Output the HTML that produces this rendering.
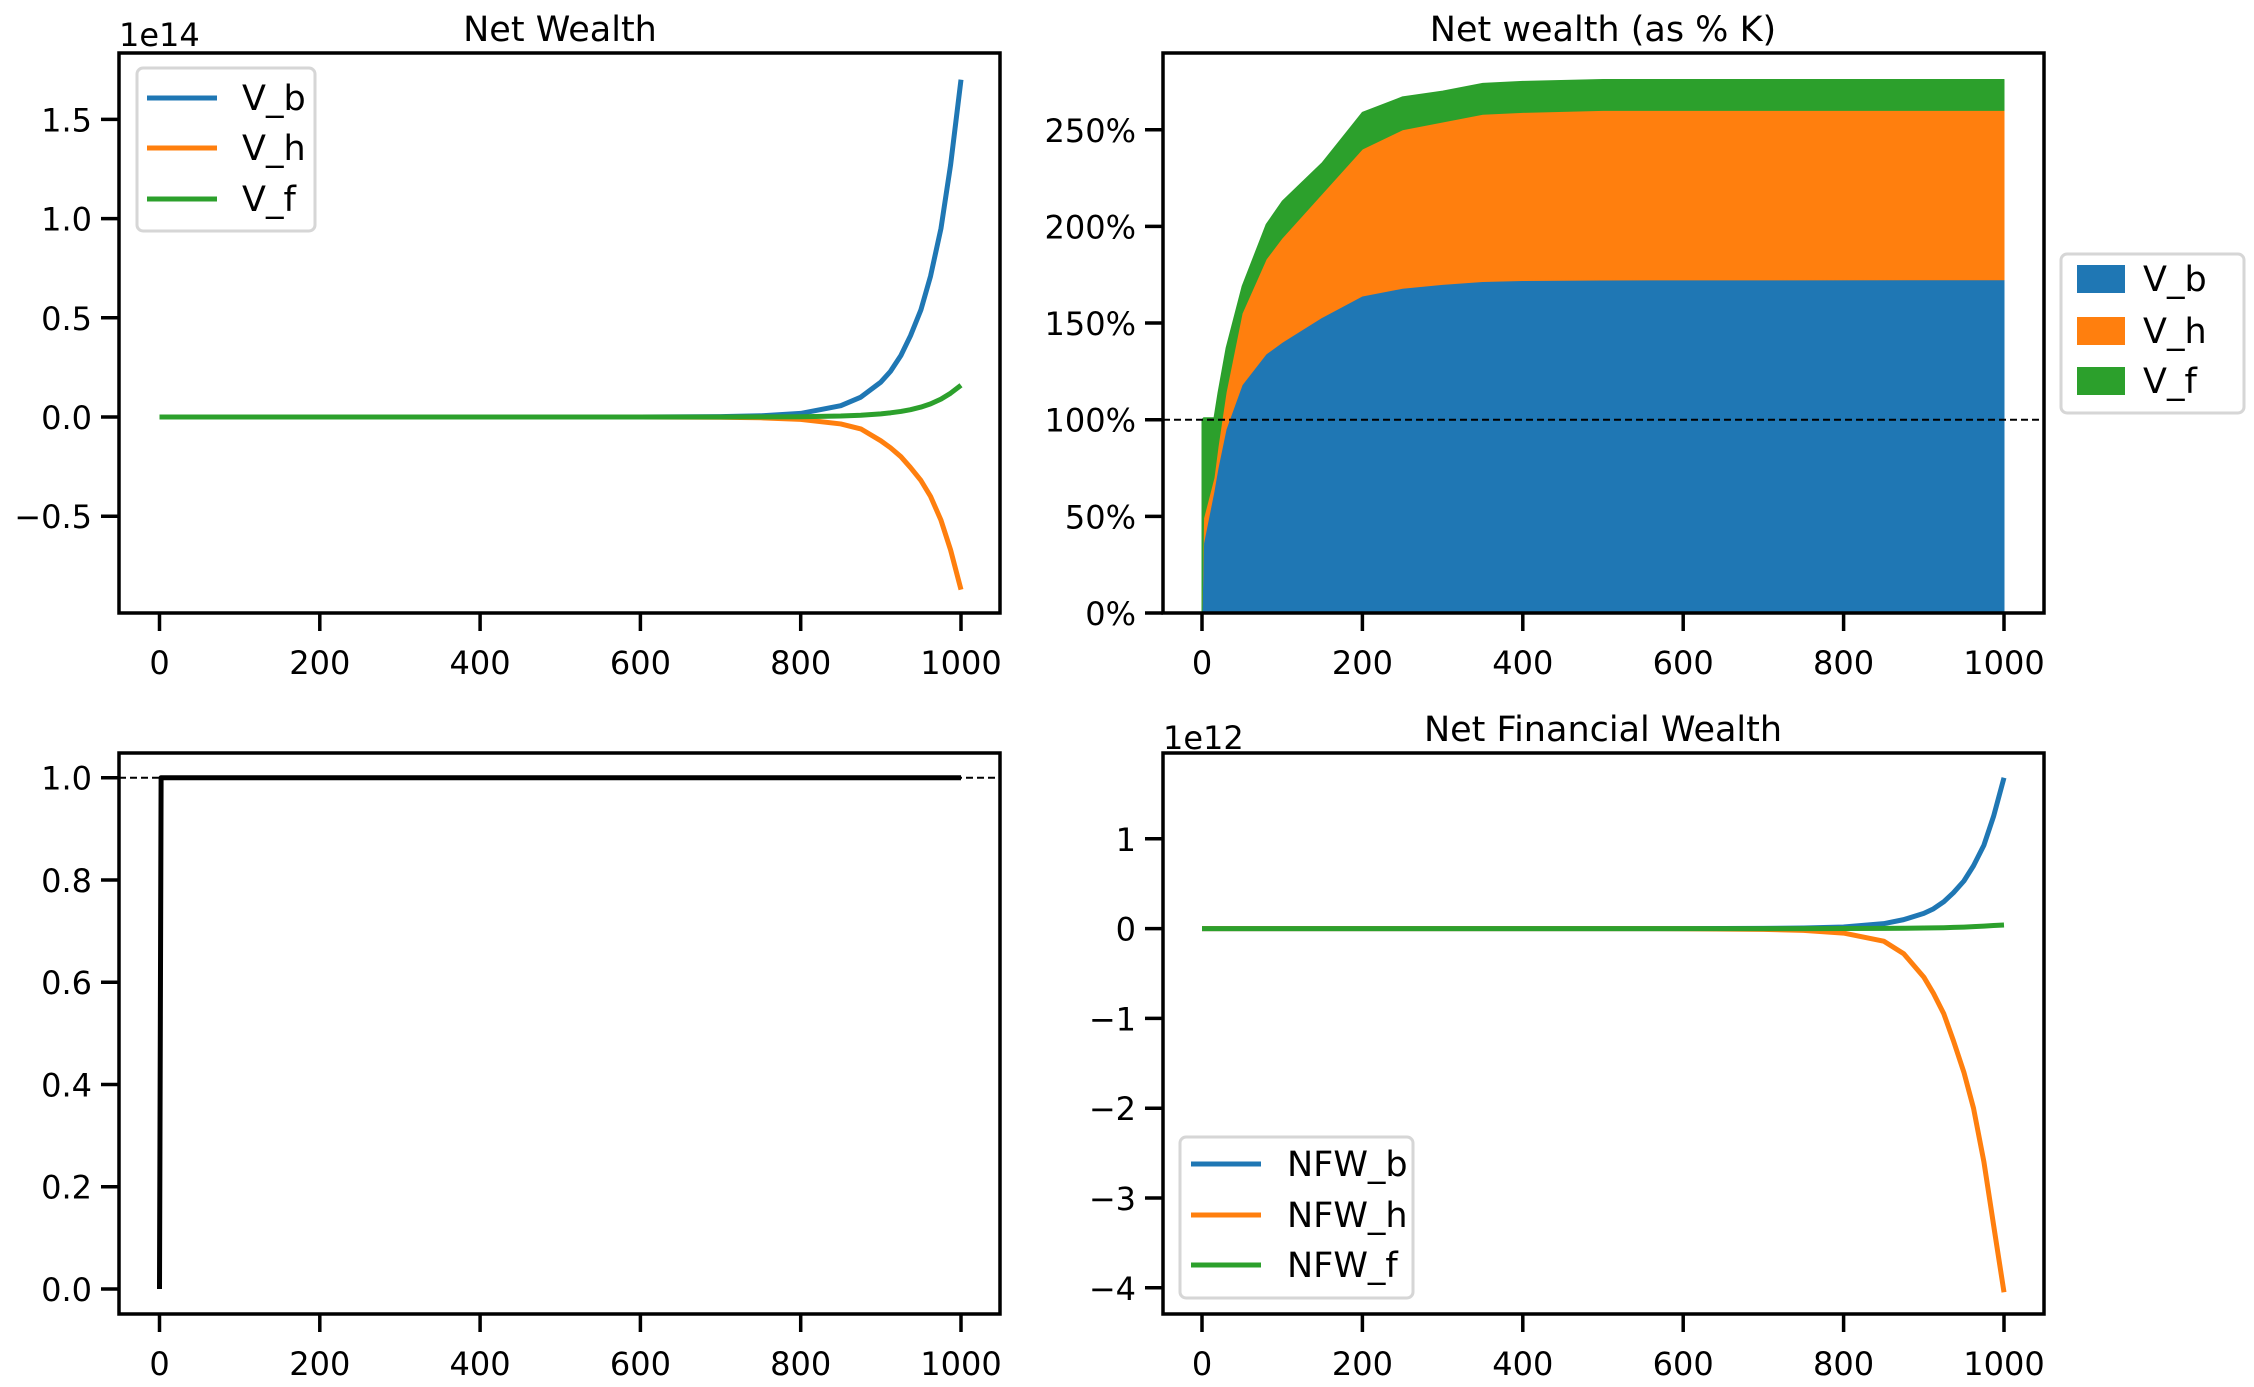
<!DOCTYPE html>
<html><head><meta charset="utf-8">
<style>
html,body{margin:0;padding:0;background:#fff;}
svg{display:block;font-family:"DejaVu Sans","Liberation Sans",sans-serif;}
</style></head>
<body>
<svg id="fig" width="2254" height="1387" viewBox="0 0 2254 1387" xmlns="http://www.w3.org/2000/svg"></svg>
<script>
// ---- data ----
const tNW = [0,600,700,750,800,850,875,900,912,925,937,950,962,975,987,1000];
const Vb = [0,0.0003,0.002,0.006,0.018,0.057,0.1,0.176,0.23,0.31,0.41,0.54,0.71,0.95,1.27,1.70];
const Vh = [0,-0.0002,-0.001,-0.004,-0.012,-0.035,-0.06,-0.12,-0.155,-0.2,-0.255,-0.32,-0.4,-0.52,-0.67,-0.87];
const Vf = [0,0,0.0001,0.0005,0.0015,0.005,0.009,0.016,0.021,0.028,0.037,0.05,0.066,0.09,0.12,0.16];

const tPct = [0,2,15,20,30,50,80,100,150,200,250,300,350,400,500,1000];
const pVb = [0,0.36,0.63,0.75,0.95,1.18,1.34,1.40,1.53,1.64,1.68,1.70,1.715,1.72,1.723,1.724];
const pVh = [0,0.13,0.07,0.11,0.19,0.37,0.49,0.54,0.64,0.76,0.82,0.84,0.865,0.87,0.877,0.876];
const pVf = [1.0,0.52,0.31,0.28,0.23,0.14,0.18,0.19,0.16,0.19,0.17,0.16,0.16,0.16,0.16,0.16];

const tRatio = [0,2,1000];
const ratio = [0,1,1];

const tNFW = [0,600,700,750,800,850,875,900,912,925,937,950,962,975,987,1000];
const NFWb = [0,0.0003,0.002,0.006,0.018,0.055,0.1,0.17,0.22,0.3,0.4,0.53,0.7,0.93,1.25,1.68];
const NFWh = [0,-0.001,-0.008,-0.02,-0.05,-0.14,-0.28,-0.54,-0.72,-0.95,-1.25,-1.6,-2.0,-2.6,-3.3,-4.05];
const NFWf = [0,0,0.0001,0.0003,0.0008,0.002,0.004,0.006,0.008,0.01,0.013,0.017,0.022,0.028,0.034,0.04];

const xTicks = [0,200,400,600,800,1000];
const ticksTL = [-0.5,0.0,0.5,1.0,1.5];
const ticksTLlab = ["\u22120.5","0.0","0.5","1.0","1.5"];
const ticksTR = [0,0.5,1,1.5,2,2.5];
const ticksTRlab = ["0%","50%","100%","150%","200%","250%"];
const ticksBL = [0,0.2,0.4,0.6,0.8,1.0];
const ticksBLlab = ["0.0","0.2","0.4","0.6","0.8","1.0"];
const ticksBR = [-4,-3,-2,-1,0,1];
const ticksBRlab = ["\u22124","\u22123","\u22122","\u22121","0","1"];

const C = {b:"#1f77b4",h:"#ff7f0e",f:"#2ca02c"};
const NS = "http://www.w3.org/2000/svg";
const svg = document.getElementById('fig');
const TF = 32;
function mk(tag, attrs, parent){
  const e = document.createElementNS(NS, tag);
  for (const k in attrs) e.setAttribute(k, attrs[k]);
  (parent||svg).appendChild(e);
  return e;
}
function lin(d0,d1,r0,r1){ return v => r0 + (v-d0)*(r1-r0)/(d1-d0); }

function axes(name, box, xs, ys, yt, ytl){
  const g = mk('g',{});
  
  
  xTicks.forEach(v=>{
    const x = xs(v);
    const tk = mk('line',{x1:x,x2:x,y1:box.b,y2:box.b+18,stroke:'#000','stroke-width':3.5},g);
    
    
    const t = mk('text',{x:x,y:box.b+61,'font-size':TF,'text-anchor':'middle',fill:'#000'},g);
    t.textContent = v;
    
    
  });
  yt.forEach((v,i)=>{
    const y = ys(v);
    const tk = mk('line',{x1:box.l-18,x2:box.l,y1:y,y2:y,stroke:'#000','stroke-width':3.5},g);
    
    
    const t = mk('text',{x:box.l-27,y:y+12,'font-size':TF,'text-anchor':'end',fill:'#000'},g);
    t.textContent = ytl[i];
    
    
  });
  return g;
}
function frame(g, box){
  const r = mk('rect',{x:box.l,y:box.t,width:box.r-box.l,height:box.b-box.t,fill:'none',stroke:'#000','stroke-width':3.5},g);
  
  
}
function path(g, xsArr, ysArr, xs, ys, color, name, w){
  let d = '';
  xsArr.forEach((v,i)=>{ d += (i?'L':'M') + xs(v).toFixed(2) + ',' + ys(ysArr[i]).toFixed(2); });
  const p = mk('path',{d:d,fill:'none',stroke:color,'stroke-width':w||5,'stroke-linejoin':'round'},g);
  
  
}
function title(txt, x, y, name){
  const t = mk('text',{x:x,y:y,'font-size':35,'text-anchor':'middle',fill:'#000'});
  t.textContent = txt;
  
  
}
function text(txt,x,y,size,name,anchor){
  const t = mk('text',{x:x,y:y,'font-size':size,'text-anchor':anchor||'start',fill:'#000'});
  t.textContent = txt;
  
  
  return t;
}
function legend(name, box, entries, patch){
  const g = mk('g',{});
  
  
  mk('rect',{x:box.x,y:box.y,width:box.w,height:box.h,rx:6,fill:'#fff','fill-opacity':0.8,stroke:'#d6d6d6','stroke-width':3},g);
  entries.forEach(e=>{
    if (patch){
      const r = mk('rect',{x:box.sx,y:e.y-14,width:48,height:28,fill:e.c},g);
      
      
    } else {
      const l = mk('line',{x1:box.sx,x2:box.sx+70,y1:e.y,y2:e.y,stroke:e.c,'stroke-width':5},g);
      
      
    }
    const t = mk('text',{x:box.tx,y:e.y+12,'font-size':35,fill:'#000'},g);
    t.textContent = e.l;
    
    
  });
}

// ---- Top-left: Net Wealth ----
{
  const box = {l:119,r:1000,t:53,b:613};
  const xs = lin(0,1000,159.5,961);
  const ys = lin(0,1,417,218.6);
  const g = axes('net-wealth-axes', box, xs, ys, ticksTL, ticksTLlab);
  path(g,tNW,Vb,xs,ys,C.b,'line-v-b');
  path(g,tNW,Vh,xs,ys,C.h,'line-v-h');
  path(g,tNW,Vf,xs,ys,C.f,'line-v-f');
  frame(g,box);
  title('Net Wealth',560,41,'net-wealth-title');
  text('1e14',119,46,TF,'offset-text-1e14');
  legend('net-wealth-legend',{x:137,y:68,w:178,h:163,sx:147,tx:242},
    [{y:98,c:C.b,l:'V_b'},{y:148,c:C.h,l:'V_h'},{y:199,c:C.f,l:'V_f'}],false);
}

// ---- Top-right: Net wealth (% K) stacked area ----
{
  const box = {l:1163,r:2044,t:53,b:613};
  const xs = lin(0,1000,1202,2004);
  const ys = lin(0,1,613,419.7);
  const g = axes('net-wealth-pct-axes', box, xs, ys, ticksTR, ticksTRlab);
  const layers = [[pVb,C.b,'area-v-b'],[pVh,C.h,'area-v-h'],[pVf,C.f,'area-v-f']];
  let base = tPct.map(()=>0);
  layers.forEach(([arr,col,nm])=>{
    const top = base.map((b,i)=>b+arr[i]);
    let d = '';
    tPct.forEach((t,i)=>{ d += (i?'L':'M') + xs(t).toFixed(2)+','+ys(top[i]).toFixed(2); });
    for (let i=tPct.length-1;i>=0;i--) d += 'L'+xs(tPct[i]).toFixed(2)+','+ys(base[i]).toFixed(2);
    d += 'Z';
    const p = mk('path',{d:d,fill:col,stroke:col,'stroke-width':1,'stroke-linejoin':'round'},g);
    
    
    base = top;
  });
  const dl = mk('line',{x1:box.l,x2:box.r,y1:ys(1),y2:ys(1),stroke:'#000','stroke-width':2,'stroke-dasharray':'7,4'},g);
  
  
  frame(g,box);
  title('Net wealth (as % K)',1603,41,'net-wealth-pct-title');
  legend('net-wealth-pct-legend',{x:2061,y:254,w:183,h:159,sx:2077,tx:2143},
    [{y:279,c:C.b,l:'V_b'},{y:331,c:C.h,l:'V_h'},{y:381,c:C.f,l:'V_f'}],true);
}

// ---- Bottom-left: ratio ----
{
  const box = {l:119,r:1000,t:753,b:1314};
  const xs = lin(0,1000,159.5,961);
  const ys = lin(0,1,1289,777.7);
  const g = axes('ratio-axes', box, xs, ys, ticksBL, ticksBLlab);
  const dl = mk('line',{x1:box.l,x2:box.r,y1:ys(1),y2:ys(1),stroke:'#000','stroke-width':2,'stroke-dasharray':'7,4'},g);
  
  
  path(g,tRatio,ratio,xs,ys,'#000','line-ratio',5);
  frame(g,box);
}

// ---- Bottom-right: Net Financial Wealth ----
{
  const box = {l:1163,r:2044,t:753,b:1314};
  const xs = lin(0,1000,1202,2004);
  const ys = lin(0,1,928.6,838.8);
  const g = axes('nfw-axes', box, xs, ys, ticksBR, ticksBRlab);
  path(g,tNFW,NFWb,xs,ys,C.b,'line-nfw-b');
  path(g,tNFW,NFWh,xs,ys,C.h,'line-nfw-h');
  path(g,tNFW,NFWf,xs,ys,C.f,'line-nfw-f');
  frame(g,box);
  title('Net Financial Wealth',1603,741,'nfw-title');
  text('1e12',1163,749,TF,'offset-text-1e12');
  legend('nfw-legend',{x:1180,y:1137,w:233,h:161,sx:1191,tx:1287},
    [{y:1164,c:C.b,l:'NFW_b'},{y:1215,c:C.h,l:'NFW_h'},{y:1265,c:C.f,l:'NFW_f'}],false);
}
</script>
</body></html>
